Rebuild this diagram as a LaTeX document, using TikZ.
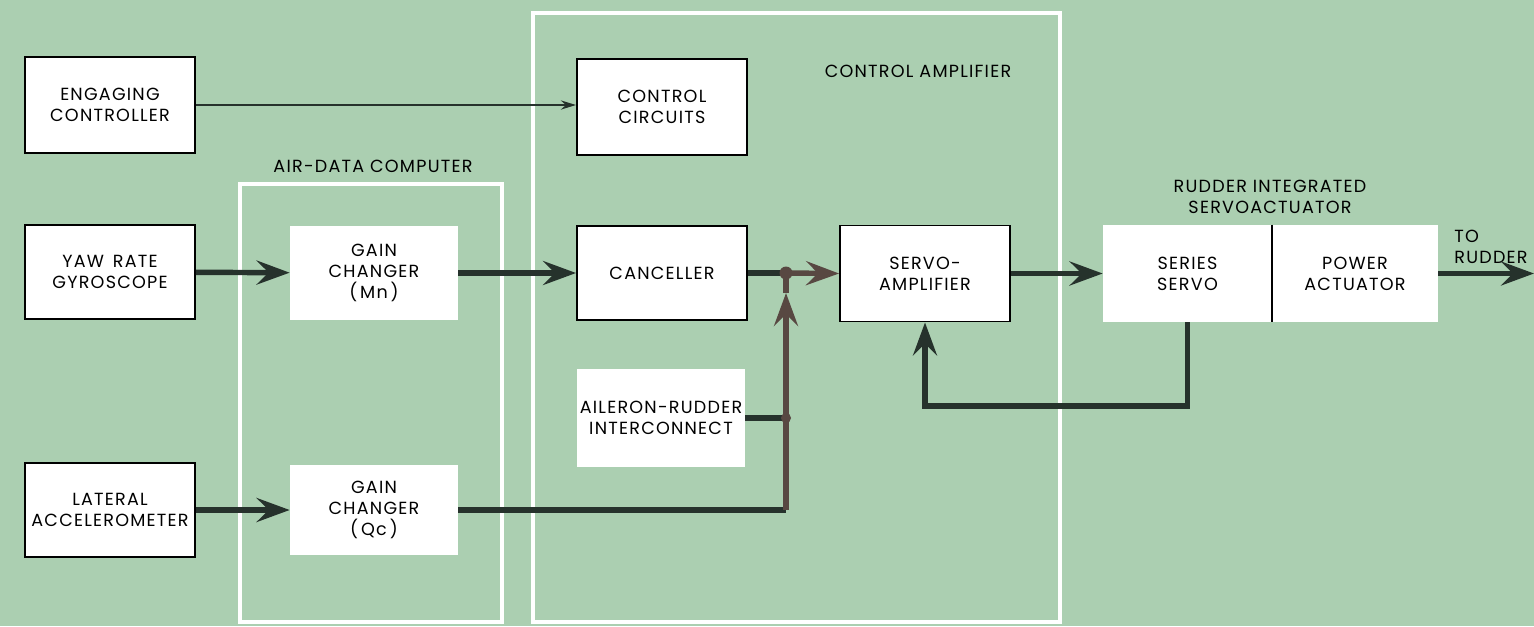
\documentclass[tikz,border=0pt]{standalone}
\usepackage{fontspec}
\setmainfont{Poppins}[LetterSpace=7]
\usetikzlibrary{arrows.meta}

\definecolor{panelgreen}{RGB}{171,207,177}
\definecolor{linedark}{RGB}{38,50,44}
\definecolor{linebrown}{RGB}{88,72,66}

\newcommand\lblfont{\fontsize{10}{11.9}\selectfont}

\tikzset{
  blk/.style={draw=black, line width=1.1pt, fill=white, align=center, inner sep=0pt,
    minimum width=3.4cm, minimum height=1.92cm, font=\lblfont},
  wbox/.style={fill=white, align=center, inner sep=0pt,
    minimum width=3.36cm, minimum height=1.88cm, font=\lblfont},
  grp/.style={align=center, inner sep=0pt, font=\lblfont},
  frame/.style={draw=white, line width=2.8pt},
  sig/.style={draw=linedark, line width=3.1pt},
  brownsig/.style={draw=linebrown, line width=3.1pt},
  bigtip/.style={-{Stealth[length=0.66cm, width=0.48cm, inset=0.24cm]}},
}

\begin{document}
\begin{tikzpicture}[x=0.02cm, y=-0.02cm]
    % Fons verd
    \useasboundingbox (0,0) rectangle (1534,626);
    \fill[panelgreen] (0,0) rectangle (1534,626);

    % Marcs dels grups (blancs)
    \draw[frame] (240,184) rectangle (502,622);
    \draw[frame] (533,13) rectangle (1060,622);
    \node[grp] (adclbl) at (373,166) {AIR-DATA COMPUTER};
    \node[grp] (calbl) at (918,71) {CONTROL AMPLIFIER};
    \node[grp] (risalbl) at (1270,197) {RUDDER INTEGRATED\\SERVOACTUATOR};

    % Sensors i controlador
    \node[blk] (eng) at (110,105) {ENGAGING\\CONTROLLER};
    \node[blk, minimum height=1.88cm] (yaw) at (110,272) {YAW\enspace RATE\\GYROSCOPE};
    \node[blk, minimum height=1.88cm] (lat) at (110,510) {LATERAL\\ACCELEROMETER};

    % Ordinador de dades d'aire
    \node[wbox] (gmn) at (374,273) {GAIN\\CHANGER\\(\,Mn\,)};
    \node[wbox, minimum height=1.8cm] (gqc) at (374,510) {GAIN\\CHANGER\\(\,Qc\,)};

    % Amplificador de control
    \node[blk] (ctrl) at (662,107) {CONTROL\\CIRCUITS};
    \node[blk, minimum height=1.88cm] (canc) at (662,273) {CANCELLER};
    \node[wbox, minimum height=1.96cm] (ail) at (661,418) {AILERON-RUDDER\\INTERCONNECT};
    \node[blk] (samp) at (925,273.5) {SERVO-\\AMPLIFIER};

    % Servoactuador integrat
    \node[wbox, minimum width=3.38cm, minimum height=1.94cm] (ss) at (1187.5,273.5) {SERIES\\SERVO};
    \node[wbox, minimum width=3.32cm, minimum height=1.94cm] (pa) at (1355,273.5) {POWER\\ACTUATOR};
    \draw[black, line width=1.1pt] (ss.north east) -- (ss.south east);
    \node[grp, anchor=west, align=left] (rudlbl) at (1454,247) {TO\\RUDDER};

    % Punts d'unio
    \coordinate (j1) at (786,273);
    \coordinate (uptip) at (786,293);
    \coordinate (fbturn) at (925,406);
    \coordinate (rudder) at (1534,273.5);

    % Connexions
    \draw[linedark, line width=1.6pt, -{Stealth[length=0.3cm, width=0.18cm]}]
        (eng.east) -- (eng.east -| ctrl.west);
    \draw[sig, bigtip] (yaw) -- (gmn);
    \draw[sig, bigtip] (gmn) -- (canc);
    \draw[sig, bigtip] (lat.east) -- (lat.east -| gqc.west);
    \draw[sig] (canc.east) -- (j1);
    \draw[brownsig, bigtip] (j1) -- (samp.west);
    \draw[sig] (gqc.east) -- (gqc.east -| j1);
    \draw[brownsig, bigtip] (gqc.east -| j1) -- (uptip);
    \draw[brownsig] (uptip) -- (j1);
    \draw[sig] (ail.east) -- (ail.east -| j1);
    \fill[linebrown] (j1) circle (0.13cm);
    \fill[linebrown] (ail.east -| j1) circle (0.1cm);
    \draw[sig, bigtip] (samp.east) -- (ss.west);
    \draw[sig, bigtip] (ss.south) |- (fbturn) -- (samp.south);
    \draw[sig, bigtip] (pa.east) -- (rudder);

\end{tikzpicture}
\end{document}
